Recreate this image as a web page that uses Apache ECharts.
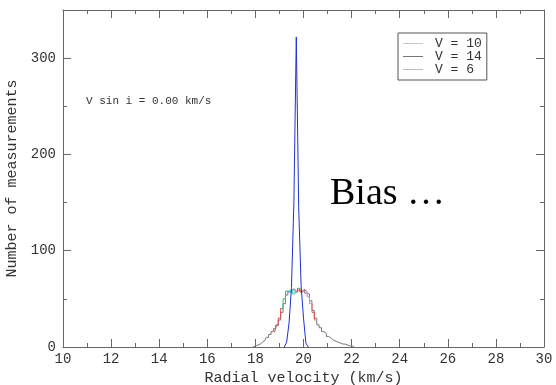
<!DOCTYPE html>
<html>
<head>
    <meta charset="utf-8">
    <title>Radial velocity</title>
    <script src="https://cdn.jsdelivr.net/npm/echarts@6/dist/echarts.min.js"></script>
    <style>
        html, body { margin: 0; padding: 0; background: #fff; }
        #main { width: 556px; height: 385px; }
    </style>
</head>
<body>
<div id="main"></div>
<script type="text/javascript">
    // faint stars: broad distribution
    var velV14 = [17.9, 18.0, 18.1, 18.2, 18.3, 18.4, 18.5, 18.6, 18.7, 18.8, 18.9, 19.0, 19.1, 19.2, 19.3, 19.4, 19.5, 19.6, 19.7, 19.8,
                  19.9, 20.0, 20.1, 20.2, 20.3, 20.4, 20.5, 20.6, 20.7, 20.8, 20.9, 21.0, 21.1, 21.2, 21.3, 21.4, 21.5, 21.6, 21.7, 21.8,
                  21.9, 22.0, 22.1];
    var cntV14 = [0, 1, 2, 3, 5, 7, 10, 13, 16, 19, 23, 28, 36, 45, 54, 58, 56, 60, 57, 61,
                  58, 60, 56, 55, 48, 38, 30, 23, 20, 16, 14, 11, 9, 7, 6, 5, 4, 3, 3, 2,
                  1, 1, 0];
    // intermediate
    var velV10 = [18.8, 18.9, 19.0, 19.1, 19.2, 19.3, 19.4, 19.5, 19.6, 19.7, 19.8, 19.9, 20.0, 20.1, 20.2, 20.3, 20.4, 20.5];
    var cntV10 = [15, 22, 30, 40, 50, 58, 56, 59, 55, 58, 60, 57, 59, 58, 52, 45, 36, 28];
    // bright stars: narrow peak
    var velV6 = [19.2, 19.3, 19.4, 19.5, 19.6, 19.7, 19.8, 19.9, 20.0, 20.1, 20.2];
    var cntV6 = [0, 5, 25, 62, 150, 322, 145, 64, 30, 4, 0];

    function pairs(xs, ys) {
        var out = [];
        for (var i = 0; i < xs.length; i++) out.push([xs[i], ys[i]]);
        return out;
    }

    var mono = 'Liberation Mono';
    var axisCol = '#666';
    var textCol = '#333';

    var myChart = echarts.init(document.getElementById('main'));

    var baseX = {
        type: 'value', min: 10, max: 30, interval: 2,
        axisLine: { show: true, onZero: false, lineStyle: { color: axisCol } },
        axisTick: { show: true, inside: true, length: 8, lineStyle: { color: axisCol } },
        minorTick: { show: true, splitNumber: 2, length: 4, lineStyle: { color: axisCol } },
        splitLine: { show: false }
    };
    var baseY = {
        type: 'value', min: 0, max: 350, interval: 100,
        axisLine: { show: true, onZero: false, lineStyle: { color: axisCol } },
        axisTick: { show: true, inside: true, length: 8, lineStyle: { color: axisCol } },
        minorTick: { show: true, splitNumber: 2, length: 4, lineStyle: { color: axisCol } },
        splitLine: { show: false }
    };

    var option = {
        animation: false,
        backgroundColor: '#fff',
        grid: { left: 63, right: 12, top: 10, bottom: 38, outerBoundsMode: 'none', containLabel: false },
        legend: {
            orient: 'vertical',
            left: 398, top: 33,
            padding: [4, 5, 4, 5],
            itemGap: 0,
            itemWidth: 20, itemHeight: 1,
            icon: 'rect',
            borderColor: '#555', borderWidth: 1,
            textStyle: { fontFamily: mono, fontSize: 13, lineHeight: 13, color: textCol,
                         padding: [0, 0, 0, 7] },
            data: [
                { name: 'V = 10', itemStyle: { color: '#c8c8c8' } },
                { name: 'V = 14', itemStyle: { color: '#777' } },
                { name: 'V = 6', itemStyle: { color: '#b8c4b8' } }
            ]
        },
        visualMap: {
            show: false,
            type: 'piecewise',
            seriesIndex: 1,
            dimension: 0,
            pieces: [
                { lt: 19.1, color: '#e05050' },
                { gte: 19.1, lt: 19.4, color: '#30c070' },
                { gte: 19.4, lt: 19.7, color: '#40d0d0' },
                { gte: 19.7, lt: 20.1, color: '#e05050' },
                { gte: 20.1, lt: 20.35, color: '#d080e8' },
                { gte: 20.35, color: '#e05050' }
            ]
        },
        xAxis: [
            echarts.util.merge({
                position: 'bottom',
                name: 'Radial velocity (km/s)',
                nameLocation: 'middle', nameGap: 20,
                nameTextStyle: { fontFamily: mono, fontSize: 15, color: textCol },
                axisLabel: { fontFamily: mono, fontSize: 14, color: textCol, margin: 5 }
            }, baseX, true),
            echarts.util.merge({ position: 'top', axisLabel: { show: false } }, baseX, true)
        ],
        yAxis: [
            echarts.util.merge({
                position: 'left',
                name: 'Number of measurements',
                nameLocation: 'middle', nameGap: 34,
                nameTextStyle: { fontFamily: mono, fontSize: 15, color: textCol },
                axisLabel: { fontFamily: mono, fontSize: 14, color: textCol, margin: 7, showMaxLabel: false }
            }, baseY, true),
            echarts.util.merge({ position: 'right', axisLabel: { show: false } }, baseY, true)
        ],
        graphic: [
            { type: 'text', left: 86, top: 96,
              style: { text: 'V sin i = 0.00 km/s', font: '11px "Liberation Mono"', fill: textCol } },
            { type: 'text', left: 330, top: 175,
              style: { text: 'Bias \u2026', font: '38px "Liberation Serif"', fill: '#000' } }
        ],
        series: [
            { name: 'V = 14', type: 'line', step: 'middle', symbol: 'none',
              lineStyle: { width: 1, color: '#777' }, itemStyle: { color: '#777' },
              data: pairs(velV14, cntV14) },
            { name: 'V = 10', type: 'line', step: 'middle', symbol: 'none',
              lineStyle: { width: 1 },
              data: pairs(velV10, cntV10) },
            { name: 'V = 6', type: 'line', symbol: 'none',
              lineStyle: { width: 1, color: '#2030d0' }, itemStyle: { color: '#2030d0' },
              data: pairs(velV6, cntV6) }
        ]
    };
    myChart.setOption(option);
</script>
</body>
</html>
